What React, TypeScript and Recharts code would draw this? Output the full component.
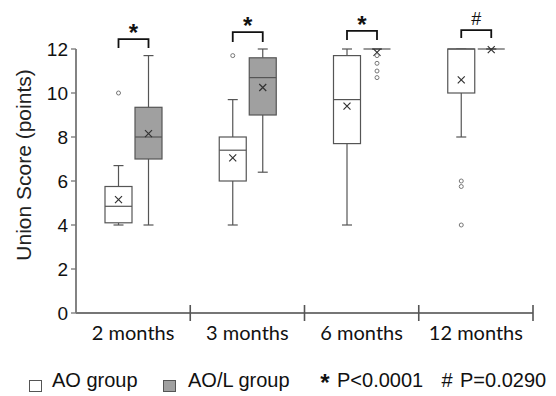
import React from 'react';
import { ComposedChart, Bar, XAxis, YAxis } from 'recharts';

const months = ['2 months', '3 months', '6 months', '12 months'];

// AO group (white boxes)
const aoMin = [4.0, 4.0, 4.0, 8.0];
const aoQ1 = [4.1, 6.0, 7.7, 10.0];
const aoMedian = [4.85, 7.4, 9.7, 12.0];
const aoQ3 = [5.75, 8.0, 11.7, 12.0];
const aoMax = [6.7, 9.7, 12.0, 12.0];
const aoMean = [5.15, 7.05, 9.4, 10.6];
const aoOutliers = [[10.0], [11.7], [], [6.0, 5.75, 4.0]];

// AO/L group (grey boxes)
const aolMin = [4.0, 6.4, 12.0, 12.0];
const aolQ1 = [7.0, 9.0, 12.0, 12.0];
const aolMedian = [8.0, 10.7, 12.0, 12.0];
const aolQ3 = [9.35, 11.6, 12.0, 12.0];
const aolMax = [11.7, 12.0, 12.0, 12.0];
const aolMean = [8.15, 10.25, 11.85, 11.97];
const aolOutliers = [[], [], [11.7, 11.35, 11.0, 10.7], []];

// significance brackets
const sigMarks = ['*', '*', '*', '#'];
const bracketTop = [12.45, 12.77, 12.82, 12.86];
const bracketBottom = [12.05, 12.32, 12.41, 12.5];

const yTicks = [0, 2, 4, 6, 8, 10, 12];

const W = 548;
const H = 340;
const MARGIN = { top: 41, right: 23, left: 0, bottom: 0 };
const Y_AXIS_W = 68;
const PLOT_W = W - MARGIN.right - MARGIN.left - Y_AXIS_W;
const BAR_SIZE = 27;
const BAR_GAP = 3;
const AXIS = '#767676';
const EDGE = '#555';
const GREY = '#a0a0a0';
const ARIAL = '"Liberation Sans", Arial, sans-serif';

type Box = {
  min: number; q1: number; median: number; q3: number; max: number;
  mean: number; outliers: number[];
};

const data = months.map((month, i) => ({
  month,
  ao: { min: aoMin[i], q1: aoQ1[i], median: aoMedian[i], q3: aoQ3[i], max: aoMax[i], mean: aoMean[i], outliers: aoOutliers[i] },
  aol: { min: aolMin[i], q1: aolQ1[i], median: aolMedian[i], q3: aolQ3[i], max: aolMax[i], mean: aolMean[i], outliers: aolOutliers[i] },
  sig: sigMarks[i],
  bTop: bracketTop[i],
  bBottom: bracketBottom[i],
}));

const topOf = (b: Box) => Math.max(b.max, b.mean, ...b.outliers);

function makeBox(key: 'ao' | 'aol', fill: string, withBracket: boolean) {
  return (props: any) => {
    const { x, y, width, height, payload } = props;
    const b: Box = payload[key];
    const base = y + height;
    const k = height / topOf(b);
    const py = (v: number) => base - v * k;
    const cx = x + width / 2;
    const cap = 5;
    const m = 3.5;
    const aoCx = cx - (BAR_SIZE + BAR_GAP);
    return (
      <g>
        <line x1={cx} x2={cx} y1={py(b.max)} y2={py(b.q3)} stroke={EDGE} strokeWidth={1.2} />
        <line x1={cx} x2={cx} y1={py(b.q1)} y2={py(b.min)} stroke={EDGE} strokeWidth={1.2} />
        <line x1={cx - cap} x2={cx + cap} y1={py(b.max)} y2={py(b.max)} stroke={EDGE} strokeWidth={1.2} />
        <line x1={cx - cap} x2={cx + cap} y1={py(b.min)} y2={py(b.min)} stroke={EDGE} strokeWidth={1.2} />
        <rect x={x} y={py(b.q3)} width={width} height={py(b.q1) - py(b.q3)} fill={fill} stroke={EDGE} strokeWidth={1.2} />
        <line x1={x} x2={x + width} y1={py(b.median)} y2={py(b.median)} stroke={EDGE} strokeWidth={1.2} />
        <path
          d={`M${cx - m},${py(b.mean) - m}L${cx + m},${py(b.mean) + m}M${cx + m},${py(b.mean) - m}L${cx - m},${py(b.mean) + m}`}
          stroke="#333"
          strokeWidth={1.2}
        />
        {b.outliers.map((o, j) => (
          <circle key={j} cx={cx} cy={py(o)} r={2} fill="#fff" stroke="#777" strokeWidth={1} />
        ))}
        {withBracket && (
          <g>
            <path
              d={`M${aoCx},${py(payload.bBottom)}V${py(payload.bTop)}H${cx}V${py(payload.bBottom)}`}
              fill="none"
              stroke="#111"
              strokeWidth={1.8}
            />
            {payload.sig === '*' ? (
              <text x={(aoCx + cx) / 2} y={py(payload.bTop) + 2} textAnchor="middle" fontFamily={ARIAL} fontWeight="bold" fontSize={24} fill="#111">*</text>
            ) : (
              <text x={(aoCx + cx) / 2} y={py(payload.bTop) - 5} textAnchor="middle" fontFamily={ARIAL} fontSize={18} fill="#111">{payload.sig}</text>
            )}
          </g>
        )}
      </g>
    );
  };
}

const MonthTick = (props: any) => {
  const { x, y, payload } = props;
  const half = PLOT_W / months.length / 2;
  return (
    <g>
      <text x={x} y={y + 27} textAnchor="middle" fontFamily="Lato, sans-serif" fontSize={20} fill="#111">
        {payload.value}
      </text>
      <line x1={x + half} x2={x + half} y1={y - 8} y2={y + 8} stroke={EDGE} strokeWidth={1.6} />
    </g>
  );
};

const YTitle = (props: any) => {
  const { x, y, height } = props.viewBox;
  const cx = x + 15;
  const cy = y + height / 2 - 16;
  return (
    <text x={cx} y={cy} transform={`rotate(-90 ${cx} ${cy})`} textAnchor="middle" dominantBaseline="central" fontFamily={ARIAL} fontSize={21} fill="#222">
      Union Score (points)
    </text>
  );
};

const Legend = () => (
  <svg width={W} height={48} style={{ display: 'block' }}>
    <g fontFamily={ARIAL} fontSize={20} fill="#111">
      <rect x={21.5} y={32.5} width={12} height={11} fill="#fff" stroke={EDGE} strokeWidth={1} />
      <text x={44} y={39}>AO group</text>
      <rect x={155.5} y={32.5} width={12} height={11} fill={GREY} stroke={EDGE} strokeWidth={1} />
      <text x={180} y={39}>AO/L group</text>
      <text x={317} y={43} textAnchor="middle" fontWeight="bold" fontSize={24}>*</text>
      <text x={329} y={39}>P&lt;0.0001</text>
      <text x={439} y={39} textAnchor="middle">#</text>
      <text x={452} y={39}>P=0.0290</text>
    </g>
  </svg>
);

export default function App() {
  return (
    <div style={{ width: W, background: '#fff' }}>
      <ComposedChart width={W} height={H} data={data} margin={MARGIN} barSize={BAR_SIZE} barGap={BAR_GAP}>
        <XAxis
          dataKey="month"
          height={35}
          axisLine={{ stroke: AXIS, strokeWidth: 1.8 }}
          tickLine={false}
          tickSize={0}
          tickMargin={0}
          tick={<MonthTick />}
          interval={0}
        />
        <YAxis
          domain={[0, 12]}
          ticks={yTicks}
          width={Y_AXIS_W}
          axisLine={{ stroke: AXIS, strokeWidth: 1.8 }}
          tickLine={{ stroke: AXIS, strokeWidth: 1.3 }}
          tickSize={5}
          tickMargin={3}
          tick={{ fontFamily: ARIAL, fontSize: 19, fill: '#111' }}
          label={<YTitle />}
        />
        <Bar dataKey={(d: any) => topOf(d.ao)} shape={makeBox('ao', '#fff', false)} isAnimationActive={false} />
        <Bar dataKey={(d: any) => topOf(d.aol)} shape={makeBox('aol', GREY, true)} isAnimationActive={false} />
      </ComposedChart>
      <Legend />
    </div>
  );
}
